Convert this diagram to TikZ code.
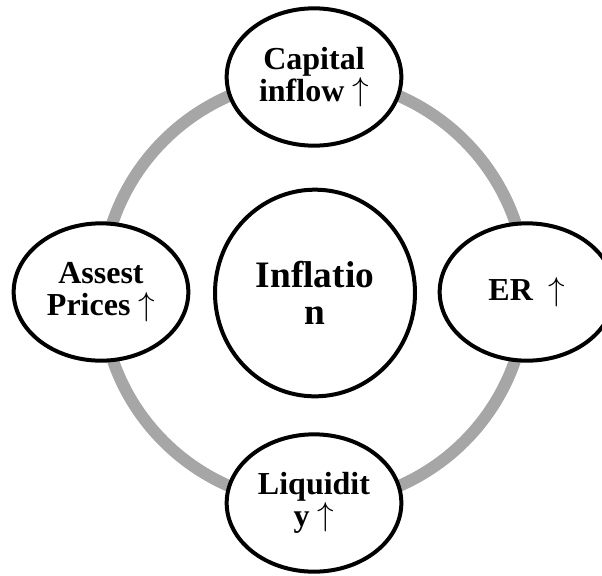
\documentclass[tikz,border=0pt]{standalone}
\usepackage{fontspec}
\setmainfont{Liberation Serif}
\usepackage{tikz}
\usetikzlibrary{shapes,calc}

\newcommand{\rises}{\raisebox{0.5pt}{$\mathord{\uparrow}$}}

\begin{document}
\begin{tikzpicture}[x=0.75pt,y=-0.75pt]
      \tikzset{stage bubble/.style={ellipse,
          draw=black,
          line width=3pt,
          fill=white,
          minimum width=131pt,
          minimum height=103pt,
          inner sep=0pt,
          align=center,
          font=\fontsize{24}{24}\selectfont\bfseries}
      }
      \tikzset{core bubble/.style={ellipse,
          draw=black,
          line width=3pt,
          fill=white,
          minimum width=150pt,
          minimum height=155pt,
          inner sep=0pt,
          align=center,
          font=\fontsize{28}{28}\selectfont\bfseries}
      }
      \useasboundingbox (0,0) rectangle (602,575);
      \clip (0,0) rectangle (602,575);
      \node [circle,draw=black!35,line width=9pt,minimum size=319pt] (loop) at (314,291) {};
      \node [core bubble] (inflation) at (315,293) {Inflatio\\n};
      \node [stage bubble] (capital) at (314,77) {Capital\\inflow \rises};
      \node [stage bubble] (er) at (527,292) {ER\ \ \rises};
      \node [stage bubble] (liquidity) at (314,503) {Liquidit\\y \rises};
      \node [stage bubble] (asset) at (101,292) {Assest\\Prices \rises};
    \end{tikzpicture}
\end{document}
